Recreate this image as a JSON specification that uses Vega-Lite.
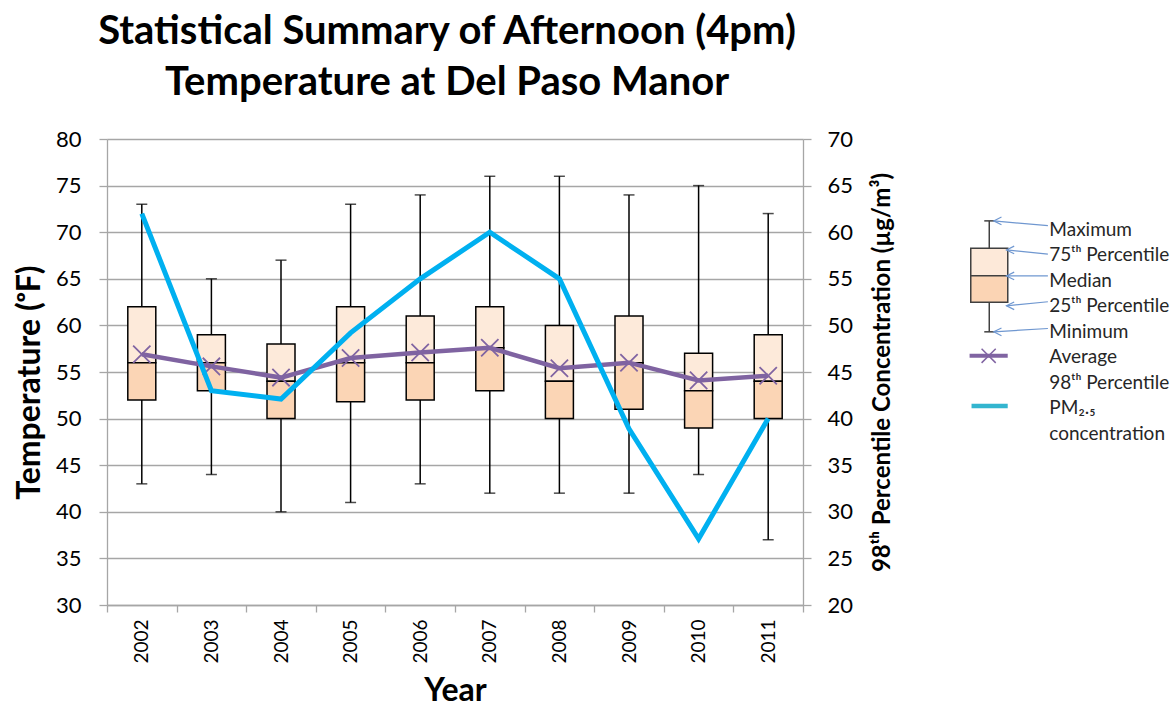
{
  "$schema": "https://vega.github.io/schema/vega-lite/v6.json",
  "background": "white",
  "padding": {"left": 13, "top": 12, "right": 0, "bottom": 0},
  "spacing": 62,
  "config": {
    "font": "Lato",
    "view": {"stroke": null},
    "axis": {"labelFont": "Lato", "titleFont": "Lato", "labelColor": "#000000", "titleColor": "#000000"},
    "axisLeft": {
      "titleFontSize": 32,
      "titleFontWeight": "bold",
      "titlePadding": 9,
      "titleY": 243,
      "values": [30, 35, 40, 45, 50, 55, 60, 65, 70, 75, 80],
      "labelFontSize": 22,
      "labelPadding": 18,
      "tickSize": 8,
      "tickColor": "#A6A6A6",
      "tickWidth": 1.3,
      "domainColor": "#A6A6A6",
      "domainWidth": 1.3,
      "grid": true,
      "gridColor": "#A6A6A6",
      "gridWidth": 1.3
    }
  },
  "datasets": {
    "stats": [
      {"year": "2002", "min": 43, "q1": 52, "median": 56, "q3": 62, "max": 73, "avg": 56.9, "pm": 62},
      {"year": "2003", "min": 44, "q1": 53, "median": 56, "q3": 59, "max": 65, "avg": 55.6, "pm": 43},
      {"year": "2004", "min": 40, "q1": 50, "median": 54, "q3": 58, "max": 67, "avg": 54.4, "pm": 42.1},
      {"year": "2005", "min": 41, "q1": 51.8, "median": 56, "q3": 62, "max": 73, "avg": 56.5, "pm": 49.2},
      {"year": "2006", "min": 43, "q1": 52, "median": 56, "q3": 61, "max": 74, "avg": 57.1, "pm": 55},
      {"year": "2007", "min": 42, "q1": 53, "median": 57.6, "q3": 62, "max": 76, "avg": 57.6, "pm": 60},
      {"year": "2008", "min": 42, "q1": 50, "median": 54, "q3": 60, "max": 76, "avg": 55.4, "pm": 55},
      {"year": "2009", "min": 42, "q1": 51, "median": 56, "q3": 61, "max": 74, "avg": 56.0, "pm": 38.9},
      {"year": "2010", "min": 44, "q1": 49, "median": 53, "q3": 57, "max": 75, "avg": 54.1, "pm": 27.1},
      {"year": "2011", "min": 37, "q1": 50, "median": 54, "q3": 59, "max": 72, "avg": 54.6, "pm": 40}
    ],
    "legendBox": [
      {"x": 13.3, "min": 4.0, "q1": 2.84, "median": 1.8, "q3": 0.72, "max": -0.35}
    ],
    "legendLabels": [
      {"label": "Maximum", "row": 0, "tailX": 41.9, "tailRow": -0.16, "headX": 15.5, "headRow": -0.35},
      {"label": "75ᵗʰ Percentile", "row": 1, "tailX": 41.9, "tailRow": 0.95, "headX": 21.7, "headRow": 0.79},
      {"label": "Median", "row": 2, "tailX": 41.9, "tailRow": 1.81, "headX": 21.7, "headRow": 1.81},
      {"label": "25ᵗʰ Percentile", "row": 3, "tailX": 41.9, "tailRow": 2.82, "headX": 21.7, "headRow": 2.98},
      {"label": "Minimum", "row": 4, "tailX": 41.9, "tailRow": 3.87, "headX": 15.5, "headRow": 4.0},
      {"label": "Average", "row": 5},
      {"label": "98ᵗʰ Percentile", "row": 6},
      {"label": "PM₂.₅", "row": 7},
      {"label": "concentration", "row": 8}
    ],
    "legendLines": [
      {"series": "Average", "x1": 3.7, "x2": 22.3, "xm": 13.0, "row": 4.94},
      {"series": "PM", "x1": 4.65, "x2": 22.3, "xm": 13.0, "row": 6.91}
    ]
  },
  "hconcat": [
    {
      "width": 696,
      "height": 466,
      "title": {
        "text": ["Statistical Summary of Afternoon (4pm)", "Temperature at Del Paso Manor"],
        "font": "Lato",
        "fontSize": 40,
        "fontWeight": "bold",
        "color": "#000000",
        "anchor": "middle",
        "lineHeight": 51,
        "offset": 25,
        "dx": -8
      },
      "data": {"name": "stats"},
      "encoding": {
        "x": {
          "field": "year",
          "type": "ordinal",
          "scale": {"paddingInner": 0, "paddingOuter": 0},
          "axis": {
            "title": "Year",
            "titleFontSize": 32,
            "titleFontWeight": "bold",
            "titlePadding": 12,
            "labelAngle": 270,
            "labelFontSize": 19,
            "labelPadding": 7,
            "tickBand": "extent",
            "tickSize": 7,
            "tickColor": "#A6A6A6",
            "tickWidth": 1.3,
            "domainColor": "#A6A6A6",
            "domainWidth": 1.3,
            "grid": false
          }
        }
      },
      "layer": [
        {
          "layer": [
            {
              "mark": {"type": "rule", "color": "#000000", "strokeWidth": 1.5},
              "encoding": {
                "y": {"field": "min", "type": "quantitative", "scale": {"domain": [30, 80], "nice": false, "zero": false}, "title": "Temperature (ᵒF)"},
                "y2": {"field": "max"}
              }
            },
            {
              "mark": {"type": "tick", "color": "#000000", "thickness": 1.5, "size": 11},
              "encoding": {
                "y": {"field": "min", "type": "quantitative", "scale": {"domain": [30, 80], "nice": false, "zero": false}, "title": "Temperature (ᵒF)"}
              }
            },
            {
              "mark": {"type": "tick", "color": "#000000", "thickness": 1.5, "size": 11},
              "encoding": {
                "y": {"field": "max", "type": "quantitative", "scale": {"domain": [30, 80], "nice": false, "zero": false}, "title": "Temperature (ᵒF)"}
              }
            },
            {
              "mark": {"type": "bar", "fill": "#FDEADA", "stroke": "#000000", "strokeWidth": 1.5, "size": 28},
              "encoding": {
                "y": {"field": "median", "type": "quantitative", "scale": {"domain": [30, 80], "nice": false, "zero": false}, "title": "Temperature (ᵒF)"},
                "y2": {"field": "q3"}
              }
            },
            {
              "mark": {"type": "bar", "fill": "#FBD5B5", "stroke": "#000000", "strokeWidth": 1.5, "size": 28},
              "encoding": {
                "y": {"field": "q1", "type": "quantitative", "scale": {"domain": [30, 80], "nice": false, "zero": false}, "title": "Temperature (ᵒF)"},
                "y2": {"field": "median"}
              }
            },
            {
              "mark": {"type": "line", "color": "#7F63A1", "strokeWidth": 4.5},
              "encoding": {
                "y": {"field": "avg", "type": "quantitative", "scale": {"domain": [30, 80], "nice": false, "zero": false}, "title": "Temperature (ᵒF)"}
              }
            },
            {
              "mark": {"type": "point", "shape": "M-1,-1L1,1M1,-1L-1,1", "size": 300, "filled": false, "stroke": "#8064A2", "strokeWidth": 1.8, "opacity": 1},
              "encoding": {
                "y": {"field": "avg", "type": "quantitative", "scale": {"domain": [30, 80], "nice": false, "zero": false}, "title": "Temperature (ᵒF)"}
              }
            }
          ]
        },
        {
          "mark": {"type": "line", "color": "#00B0F0", "strokeWidth": 5},
          "encoding": {
            "y": {
              "field": "pm",
              "type": "quantitative",
              "scale": {"domain": [20, 70], "nice": false, "zero": false},
              "axis": {
                "orient": "right",
                "title": "98ᵗʰ Percentile Concentration (µg/m³)",
                "titleFontSize": 24,
                "titleFontWeight": "bold",
                "titleAngle": 270,
                "titleBaseline": "top",
                "titlePadding": 18,
                "values": [20, 25, 30, 35, 40, 45, 50, 55, 60, 65, 70],
                "labelFontSize": 22,
                "labelPadding": 16,
                "tickSize": 8,
                "tickColor": "#A6A6A6",
                "tickWidth": 1.3,
                "domainColor": "#A6A6A6",
                "domainWidth": 1.3,
                "grid": false
              }
            }
          }
        }
      ],
      "resolve": {"scale": {"y": "independent"}, "axis": {"y": "independent"}}
    },
    {
      "width": 215,
      "height": 466,
      "layer": [
        {
          "data": {"name": "legendBox"},
          "mark": {"type": "rule", "color": "#404040", "strokeWidth": 1.5},
          "encoding": {
            "x": {"field": "x", "type": "quantitative", "scale": {"domain": [0, 100], "nice": false, "zero": false}, "axis": null},
            "y": {"field": "min", "type": "quantitative", "scale": {"domain": [-3.56, 14.71], "reverse": true, "nice": false, "zero": false}, "axis": null},
            "y2": {"field": "max"}
          }
        },
        {
          "data": {"name": "legendBox"},
          "mark": {"type": "point", "shape": "M-1,0L1,0", "size": 100, "filled": false, "stroke": "#404040", "strokeWidth": 1.5, "opacity": 1},
          "encoding": {
            "x": {"field": "x", "type": "quantitative", "scale": {"domain": [0, 100], "nice": false, "zero": false}, "axis": null},
            "y": {"field": "min", "type": "quantitative", "scale": {"domain": [-3.56, 14.71], "reverse": true, "nice": false, "zero": false}, "axis": null}
          }
        },
        {
          "data": {"name": "legendBox"},
          "mark": {"type": "point", "shape": "M-1,0L1,0", "size": 100, "filled": false, "stroke": "#404040", "strokeWidth": 1.5, "opacity": 1},
          "encoding": {
            "x": {"field": "x", "type": "quantitative", "scale": {"domain": [0, 100], "nice": false, "zero": false}, "axis": null},
            "y": {"field": "max", "type": "quantitative", "scale": {"domain": [-3.56, 14.71], "reverse": true, "nice": false, "zero": false}, "axis": null}
          }
        },
        {
          "data": {"name": "legendBox"},
          "mark": {"type": "bar", "fill": "#FDE9D9", "stroke": "#404040", "strokeWidth": 1.5, "size": 37},
          "encoding": {
            "x": {"field": "x", "type": "quantitative", "scale": {"domain": [0, 100], "nice": false, "zero": false}, "axis": null},
            "y": {"field": "median", "type": "quantitative", "scale": {"domain": [-3.56, 14.71], "reverse": true, "nice": false, "zero": false}, "axis": null},
            "y2": {"field": "q3"}
          }
        },
        {
          "data": {"name": "legendBox"},
          "mark": {"type": "bar", "fill": "#FBD4B4", "stroke": "#404040", "strokeWidth": 1.5, "size": 37},
          "encoding": {
            "x": {"field": "x", "type": "quantitative", "scale": {"domain": [0, 100], "nice": false, "zero": false}, "axis": null},
            "y": {"field": "q1", "type": "quantitative", "scale": {"domain": [-3.56, 14.71], "reverse": true, "nice": false, "zero": false}, "axis": null},
            "y2": {"field": "median"}
          }
        },
        {
          "data": {"name": "legendLabels"},
          "transform": [{"filter": "isValid(datum.headX)"}],
          "mark": {"type": "rule", "color": "#6F97D0", "strokeWidth": 1.2},
          "encoding": {
            "x": {"field": "tailX", "type": "quantitative", "scale": {"domain": [0, 100], "nice": false, "zero": false}, "axis": null},
            "x2": {"field": "headX"},
            "y": {"field": "tailRow", "type": "quantitative", "scale": {"domain": [-3.56, 14.71], "reverse": true, "nice": false, "zero": false}, "axis": null},
            "y2": {"field": "headRow"}
          }
        },
        {
          "data": {"name": "legendLabels"},
          "transform": [{"filter": "isValid(datum.headX)"}],
          "mark": {"type": "point", "shape": "M2.2,-1.1L0,0L2.2,1.1", "size": 49, "filled": false, "stroke": "#6F97D0", "strokeWidth": 1.2, "opacity": 1},
          "encoding": {
            "x": {"field": "headX", "type": "quantitative", "scale": {"domain": [0, 100], "nice": false, "zero": false}, "axis": null},
            "y": {"field": "headRow", "type": "quantitative", "scale": {"domain": [-3.56, 14.71], "reverse": true, "nice": false, "zero": false}, "axis": null}
          }
        },
        {
          "data": {"name": "legendLabels"},
          "mark": {"type": "text", "align": "left", "baseline": "middle", "font": "Lato", "fontSize": 19, "color": "#262626"},
          "encoding": {
            "x": {"datum": 42.6, "type": "quantitative", "scale": {"domain": [0, 100], "nice": false, "zero": false}, "axis": null},
            "y": {"field": "row", "type": "quantitative", "scale": {"domain": [-3.56, 14.71], "reverse": true, "nice": false, "zero": false}, "axis": null},
            "text": {"field": "label"}
          }
        },
        {
          "data": {"name": "legendLines"},
          "transform": [{"filter": "datum.series === 'Average'"}],
          "mark": {"type": "rule", "color": "#8064A2", "strokeWidth": 4},
          "encoding": {
            "x": {"field": "x1", "type": "quantitative", "scale": {"domain": [0, 100], "nice": false, "zero": false}, "axis": null},
            "x2": {"field": "x2"},
            "y": {"field": "row", "type": "quantitative", "scale": {"domain": [-3.56, 14.71], "reverse": true, "nice": false, "zero": false}, "axis": null}
          }
        },
        {
          "data": {"name": "legendLines"},
          "transform": [{"filter": "datum.series === 'Average'"}],
          "mark": {"type": "point", "shape": "M-1,-1L1,1M1,-1L-1,1", "size": 200, "filled": false, "stroke": "#8064A2", "strokeWidth": 1.5, "opacity": 1},
          "encoding": {
            "x": {"field": "xm", "type": "quantitative", "scale": {"domain": [0, 100], "nice": false, "zero": false}, "axis": null},
            "y": {"field": "row", "type": "quantitative", "scale": {"domain": [-3.56, 14.71], "reverse": true, "nice": false, "zero": false}, "axis": null}
          }
        },
        {
          "data": {"name": "legendLines"},
          "transform": [{"filter": "datum.series === 'PM'"}],
          "mark": {"type": "rule", "color": "#33B5CF", "strokeWidth": 4.5},
          "encoding": {
            "x": {"field": "x1", "type": "quantitative", "scale": {"domain": [0, 100], "nice": false, "zero": false}, "axis": null},
            "x2": {"field": "x2"},
            "y": {"field": "row", "type": "quantitative", "scale": {"domain": [-3.56, 14.71], "reverse": true, "nice": false, "zero": false}, "axis": null}
          }
        }
      ]
    }
  ]
}
